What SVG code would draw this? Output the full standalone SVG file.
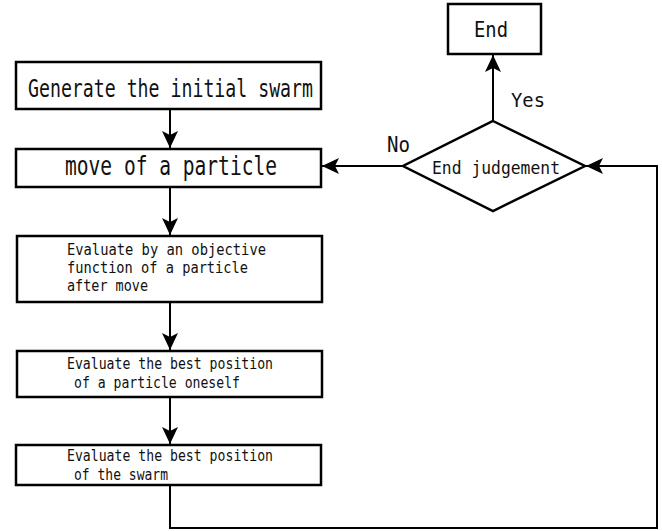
<svg xmlns="http://www.w3.org/2000/svg" width="662" height="531" viewBox="0 0 662 531">
<defs>
<style>
.box{fill:#fff;stroke:#000;stroke-width:2.5}
.ln{fill:none;stroke:#000;stroke-width:2}
text{font-family:"DejaVu Sans Mono","Liberation Mono",monospace;fill:#111}
.s{font-size:15px}
</style>
<marker id="ah" markerUnits="userSpaceOnUse" markerWidth="18" markerHeight="18" viewBox="0 0 18 18" refX="17" refY="9" orient="auto">
<path d="M0,1 L17,9 L0,17 L4,9 Z" fill="#000"/>
</marker>
</defs>
<rect width="662" height="531" fill="#fff"/>
<g id="connectors">
<line class="ln" x1="170" y1="109" x2="170" y2="148" marker-end="url(#ah)"/>
<line class="ln" x1="170" y1="187" x2="170" y2="235" marker-end="url(#ah)"/>
<line class="ln" x1="170" y1="302" x2="170" y2="350" marker-end="url(#ah)"/>
<line class="ln" x1="170" y1="397" x2="170" y2="444" marker-end="url(#ah)"/>
<polyline class="ln" points="170,486 170,528 657,528 657,166 586,166" marker-end="url(#ah)"/>
<line class="ln" x1="403" y1="166" x2="322" y2="166" marker-end="url(#ah)"/>
<line class="ln" x1="493" y1="121" x2="493" y2="55" marker-end="url(#ah)"/>
<text x="511" y="107" font-size="20" textLength="34" lengthAdjust="spacingAndGlyphs">Yes</text>
<text x="387" y="152" font-size="21" textLength="23" lengthAdjust="spacingAndGlyphs">No</text>
</g>
<g id="n1">
<rect class="box" x="16" y="62" width="305" height="47"/>
<text x="28" y="97" font-size="24" textLength="285" lengthAdjust="spacingAndGlyphs">Generate the initial swarm</text>
</g>
<g id="n2">
<rect class="box" x="16" y="149" width="305" height="38"/>
<text x="65" y="175" font-size="27" textLength="212" lengthAdjust="spacingAndGlyphs">move of a particle</text>
</g>
<g id="n3">
<rect class="box" x="17" y="236" width="305" height="66"/>
<text class="s" x="67" y="255" textLength="199" lengthAdjust="spacingAndGlyphs">Evaluate by an objective</text>
<text class="s" x="67" y="273" textLength="181" lengthAdjust="spacingAndGlyphs">function of a particle</text>
<text class="s" x="67" y="291" textLength="81" lengthAdjust="spacingAndGlyphs">after move</text>
</g>
<g id="n4">
<rect class="box" x="17" y="351" width="305" height="46"/>
<text class="s" x="67" y="369" textLength="206" lengthAdjust="spacingAndGlyphs">Evaluate the best position</text>
<text class="s" x="74" y="388" textLength="166" lengthAdjust="spacingAndGlyphs">of a particle oneself</text>
</g>
<g id="n5">
<rect class="box" x="16" y="445" width="305" height="40"/>
<text class="s" x="67" y="461" textLength="206" lengthAdjust="spacingAndGlyphs">Evaluate the best position</text>
<text class="s" x="74" y="480" textLength="94" lengthAdjust="spacingAndGlyphs">of the swarm</text>
</g>
<g id="decision">
<polygon class="box" points="493,121 585,166 493,211 403,166"/>
<text x="432" y="174" font-size="18" textLength="128" lengthAdjust="spacingAndGlyphs">End judgement</text>
</g>
<g id="end">
<rect class="box" x="448" y="4" width="93" height="50"/>
<text x="474" y="37" font-size="21" textLength="34" lengthAdjust="spacingAndGlyphs">End</text>
</g>
</svg>
